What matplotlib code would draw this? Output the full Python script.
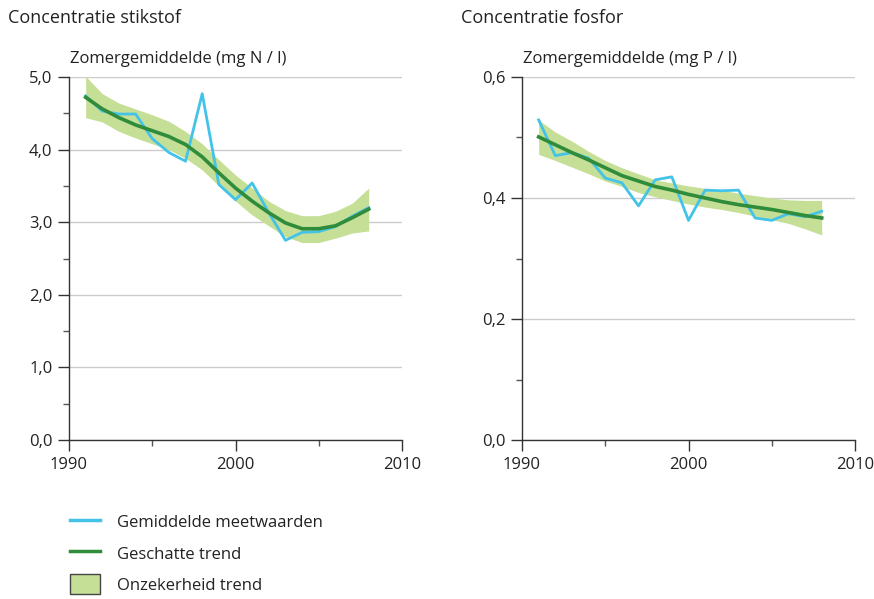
import numpy as np
import matplotlib.pyplot as plt
from matplotlib.patches import Patch
from matplotlib.lines import Line2D
from matplotlib.ticker import MultipleLocator, FuncFormatter

plt.rcParams['font.family'] = ['Open Sans', 'DejaVu Sans']

# jaren
jaren = list(range(1991, 2009))

# stikstof (mg N / l)
n_meet = [4.74, 4.53, 4.49, 4.49, 4.15, 3.96, 3.84, 4.77, 3.52, 3.31,
          3.54, 3.13, 2.75, 2.86, 2.87, 2.94, 3.08, 3.20]
n_trend = [4.72, 4.56, 4.44, 4.34, 4.26, 4.18, 4.07, 3.90, 3.68, 3.47,
           3.29, 3.13, 2.99, 2.91, 2.91, 2.95, 3.06, 3.18]
n_boven = [5.01, 4.77, 4.64, 4.56, 4.48, 4.39, 4.25, 4.08, 3.86, 3.65,
           3.47, 3.29, 3.16, 3.09, 3.09, 3.15, 3.26, 3.47]
n_onder = [4.44, 4.38, 4.25, 4.16, 4.08, 4.00, 3.88, 3.72, 3.50, 3.29,
           3.10, 2.95, 2.80, 2.72, 2.72, 2.78, 2.85, 2.88]

# fosfor (mg P / l)
p_meet = [0.529, 0.470, 0.475, 0.466, 0.433, 0.425, 0.387, 0.430, 0.435, 0.363,
          0.413, 0.412, 0.413, 0.367, 0.363, 0.374, 0.369, 0.378]
p_trend = [0.501, 0.488, 0.475, 0.463, 0.450, 0.437, 0.428, 0.419, 0.413, 0.406,
           0.400, 0.394, 0.389, 0.385, 0.381, 0.376, 0.371, 0.367]
p_boven = [0.529, 0.509, 0.494, 0.477, 0.462, 0.450, 0.440, 0.430, 0.425, 0.420,
           0.416, 0.413, 0.408, 0.404, 0.400, 0.397, 0.396, 0.396]
p_onder = [0.472, 0.462, 0.451, 0.440, 0.428, 0.419, 0.409, 0.402, 0.396, 0.390,
           0.385, 0.381, 0.376, 0.370, 0.364, 0.358, 0.349, 0.339]

blauw = '#43c3e8'
groen = '#2f8c3b'
band = '#c6df96'
tekst = '#222222'

W, H = 874, 599
fig = plt.figure(figsize=(W / 100, H / 100), dpi=100)


def paneel(links, titel, ylabel, meet, trend, boven, onder, ymax, major, minor):
    ax = fig.add_axes([links / W, (H - 440) / H, 333 / W, 363 / H])
    ax.fill_between(jaren, onder, boven, color=band, lw=0, zorder=2)
    ax.plot(jaren, meet, color=blauw, lw=2, zorder=3)
    ax.plot(jaren, trend, color=groen, lw=2.6, zorder=4)
    ax.set_xlim(1990, 2010)
    ax.set_ylim(0, ymax)
    ax.xaxis.set_major_locator(MultipleLocator(10))
    ax.xaxis.set_minor_locator(MultipleLocator(5))
    ax.yaxis.set_major_locator(MultipleLocator(major))
    ax.yaxis.set_minor_locator(MultipleLocator(minor))
    ax.yaxis.set_major_formatter(FuncFormatter(lambda v, p: '{:.1f}'.format(v).replace('.', ',')))
    ax.grid(axis='y', which='major', color='#cccccc', lw=1)
    ax.set_axisbelow(True)
    for s in ['top', 'right']:
        ax.spines[s].set_visible(False)
    for s in ['left', 'bottom']:
        ax.spines[s].set_color('#333333')
        ax.spines[s].set_linewidth(1)
    ax.tick_params(which='major', length=8, width=1, color='#333333',
                   labelsize=12, labelcolor=tekst, pad=4)
    ax.tick_params(which='minor', length=4, width=1, color='#555555')
    fig.text((links - 61) / W, 1 - 18 / H, titel, fontsize=13, color=tekst, va='center')
    fig.text((links + 1) / W, 1 - 59 / H, ylabel, fontsize=12, color=tekst, va='center')
    return ax


paneel(69, 'Concentratie stikstof', 'Zomergemiddelde (mg N / l)',
       n_meet, n_trend, n_boven, n_onder, 5, 1, 0.5)
paneel(522, 'Concentratie fosfor', 'Zomergemiddelde (mg P / l)',
       p_meet, p_trend, p_boven, p_onder, 0.6, 0.2, 0.1)

handles = [Line2D([], [], color=blauw, lw=2.5),
           Line2D([], [], color=groen, lw=2.5),
           Patch(facecolor=band, edgecolor='#444444', lw=1)]
labels = ['Gemiddelde meetwaarden', 'Geschatte trend', 'Onzekerheid trend']
fig.legend(handles, labels, loc='upper left', bbox_to_anchor=(70 / W, 1 - 512 / H),
           frameon=False, fontsize=12, handlelength=1.8, handleheight=1.45,
           labelspacing=0.68, handletextpad=1.0, borderpad=0, borderaxespad=0,
           labelcolor=tekst)

fig.savefig('out.png', dpi=100)
